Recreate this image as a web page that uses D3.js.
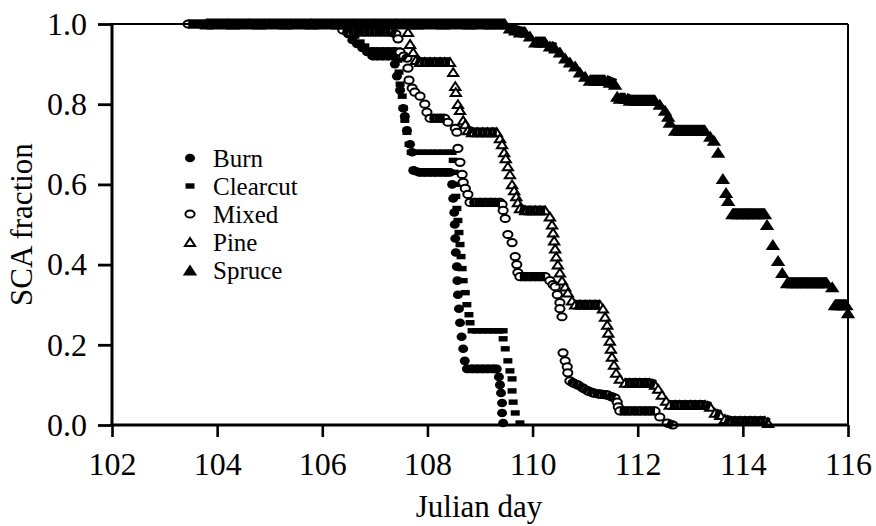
<!DOCTYPE html>
<html><head><meta charset="utf-8">
<script src="https://cdn.jsdelivr.net/npm/d3@7"></script>
<style>
html,body{margin:0;padding:0;background:#fff;}
svg{display:block;}
</style></head><body>
<svg id="chart" width="876" height="526"></svg>
<script>
// ---------------- DATA ----------------
const xTicks = [102,104,106,108,110,112,114,116];
const yTicks = [0.0,0.2,0.4,0.6,0.8,1.0];
const seriesNames = ["Burn","Clearcut","Mixed","Pine","Spruce"];
const xLabel = "Julian day";
const yLabel = "SCA fraction";

const burn = [
[103.45,1],[103.8,1],[104.2,1],[104.6,1],[105.0,1],[105.4,1],[105.8,1],[106.2,1],[106.39,1],
[106.43,0.99],[106.49,0.975],[106.57,0.96],[106.66,0.95],[106.76,0.94],[106.85,0.93],[106.95,0.92],
[107.05,0.92],[107.15,0.92],[107.25,0.92],[107.35,0.92],[107.38,0.90],
[107.42,0.87],[107.48,0.835],[107.54,0.79],[107.57,0.77],[107.61,0.735],[107.67,0.70],[107.71,0.68],[107.73,0.635],
[107.85,0.63],[107.95,0.63],[108.05,0.63],[108.15,0.63],[108.25,0.63],[108.35,0.63],[108.43,0.63],
[108.47,0.60],[108.49,0.565],[108.51,0.53],[108.52,0.50],[108.53,0.465],[108.54,0.43],[108.56,0.395],[108.57,0.36],
[108.58,0.325],[108.60,0.29],[108.62,0.255],[108.65,0.22],[108.68,0.19],[108.71,0.16],[108.75,0.14],
[108.85,0.14],[108.95,0.14],[109.05,0.14],[109.15,0.14],[109.25,0.14],[109.32,0.14],
[109.36,0.12],[109.38,0.10],[109.40,0.08],[109.42,0.055],[109.42,0.03],[109.44,0.005]
];

const clearcut = [
[103.45,1],[103.8,1],[104.2,1],[104.6,1],[105.0,1],[105.4,1],[105.8,1],[106.2,1],[106.43,1],
[106.53,0.985],[106.62,0.97],[106.72,0.955],[106.81,0.945],[106.91,0.935],[107.0,0.935],[107.1,0.935],
[107.2,0.935],[107.3,0.935],[107.42,0.935],
[107.44,0.91],[107.46,0.88],[107.48,0.85],[107.52,0.82],[107.54,0.79],[107.57,0.76],[107.61,0.73],[107.65,0.70],[107.69,0.68],
[107.8,0.68],[107.9,0.68],[108.0,0.68],[108.1,0.68],[108.2,0.68],[108.3,0.68],[108.4,0.68],[108.47,0.68],
[108.49,0.66],[108.51,0.63],[108.53,0.60],[108.54,0.57],[108.56,0.54],[108.58,0.51],[108.60,0.48],[108.62,0.45],
[108.64,0.42],[108.66,0.39],[108.68,0.36],[108.72,0.33],[108.75,0.30],[108.79,0.275],[108.81,0.255],[108.85,0.235],
[108.95,0.235],[109.05,0.235],[109.15,0.235],[109.25,0.235],[109.35,0.235],[109.44,0.235],
[109.44,0.215],[109.48,0.19],[109.53,0.16],[109.57,0.135],[109.61,0.115],[109.61,0.085],[109.63,0.057],[109.67,0.03],[109.76,0.005]
];

const mixed = [
[103.45,1],[103.8,1],[104.2,1],[104.6,1],[105.0,1],[105.4,1],[105.8,1],[106.2,1],[106.34,1],
[106.39,0.985],[106.5,0.98],[106.6,0.98],[106.7,0.98],[106.8,0.98],[106.9,0.98],[107.0,0.98],[107.1,0.98],
[107.2,0.98],[107.3,0.98],[107.4,0.975],
[107.44,0.963],[107.48,0.93],[107.55,0.92],[107.61,0.915],[107.63,0.89],[107.65,0.86],[107.71,0.84],[107.76,0.83],
[107.86,0.82],[107.95,0.80],[107.99,0.78],
[108.05,0.765],[108.14,0.765],[108.24,0.765],[108.33,0.765],[108.39,0.755],[108.53,0.74],[108.56,0.73],
[108.58,0.69],[108.62,0.655],[108.66,0.625],[108.68,0.605],[108.72,0.59],[108.77,0.575],[108.81,0.555],
[108.9,0.555],[109.0,0.555],[109.1,0.555],[109.2,0.555],[109.29,0.555],[109.38,0.555],[109.42,0.55],
[109.44,0.535],[109.48,0.515],[109.53,0.475],[109.61,0.455],[109.67,0.42],[109.70,0.40],[109.72,0.38],[109.76,0.37],
[109.86,0.37],[109.95,0.37],[110.05,0.37],[110.14,0.37],[110.24,0.37],[110.33,0.36],[110.39,0.35],
[110.43,0.345],[110.47,0.325],[110.52,0.305],[110.52,0.29],[110.56,0.27],
[110.58,0.18],[110.62,0.16],[110.66,0.145],[110.67,0.13],[110.71,0.11],[110.77,0.105],[110.86,0.10],[110.96,0.092],
[111.05,0.085],[111.15,0.08],[111.28,0.077],[111.42,0.075],[111.51,0.07],[111.57,0.067],[111.61,0.057],[111.63,0.045],
[111.66,0.035],[111.76,0.035],[111.85,0.035],[111.95,0.035],[112.04,0.035],[112.14,0.035],[112.23,0.035],[112.33,0.035],
[112.42,0.02],[112.56,0.005],[112.67,0.0]
];

const pine = [
[103.8,1],[104.2,1],[104.6,1],[105.0,1],[105.4,1],[105.8,1],[106.2,1],[106.6,1],[107.0,1],[107.4,1],[107.57,1],
[107.63,0.98],[107.67,0.95],[107.73,0.93],[107.78,0.91],[107.86,0.905],[107.95,0.905],[108.05,0.905],[108.14,0.905],
[108.24,0.905],[108.33,0.905],[108.43,0.905],
[108.49,0.88],[108.53,0.845],[108.54,0.83],[108.58,0.80],[108.62,0.785],[108.68,0.76],[108.72,0.75],[108.77,0.735],
[108.85,0.73],[108.95,0.73],[109.05,0.73],[109.14,0.73],[109.24,0.73],[109.32,0.73],
[109.38,0.715],[109.42,0.70],[109.46,0.68],[109.49,0.665],[109.53,0.645],[109.57,0.625],[109.61,0.60],[109.65,0.585],
[109.69,0.57],[109.72,0.555],[109.76,0.54],
[109.86,0.535],[109.95,0.535],[110.05,0.535],[110.14,0.535],[110.24,0.535],
[110.33,0.52],[110.37,0.50],[110.39,0.48],[110.41,0.46],[110.43,0.44],[110.45,0.42],[110.48,0.40],[110.52,0.38],
[110.56,0.36],[110.62,0.345],[110.67,0.33],[110.75,0.31],[110.81,0.30],
[110.9,0.30],[111.0,0.30],[111.09,0.30],[111.19,0.30],[111.28,0.30],
[111.34,0.29],[111.38,0.27],[111.42,0.25],[111.44,0.23],[111.47,0.21],[111.49,0.19],[111.51,0.17],[111.55,0.15],
[111.59,0.13],[111.66,0.115],[111.76,0.105],
[111.85,0.105],[111.95,0.105],[112.04,0.105],[112.14,0.105],[112.23,0.105],[112.33,0.10],[112.39,0.09],[112.46,0.075],
[112.54,0.06],[112.61,0.05],
[112.71,0.05],[112.8,0.05],[112.9,0.05],[113.0,0.05],[113.09,0.05],[113.19,0.05],[113.28,0.05],[113.38,0.045],
[113.47,0.03],[113.57,0.025],[113.66,0.015],[113.76,0.01],
[113.85,0.01],[113.95,0.01],[114.04,0.01],[114.14,0.01],[114.23,0.01],[114.33,0.01],[114.42,0.01],[114.48,0.005]
];

const spruce = [
[103.8,1],[104.3,1],[104.8,1],[105.3,1],[105.8,1],[106.3,1],[106.8,1],[107.3,1],[107.8,1],[108.3,1],[108.8,1],[109.2,1],[109.48,1],
[109.57,0.99],[109.67,0.985],[109.76,0.98],[109.86,0.98],[109.95,0.97],[110.05,0.955],[110.14,0.955],[110.24,0.955],
[110.33,0.945],[110.43,0.94],[110.52,0.93],[110.62,0.915],[110.71,0.905],[110.81,0.895],[110.90,0.88],[111.0,0.87],
[111.09,0.86],[111.19,0.86],[111.28,0.86],[111.38,0.86],[111.47,0.855],[111.57,0.85],
[111.61,0.82],[111.66,0.815],[111.76,0.815],[111.85,0.81],[111.95,0.81],[112.04,0.81],[112.14,0.81],[112.23,0.81],
[112.33,0.81],[112.42,0.80],[112.52,0.785],[112.58,0.77],[112.61,0.755],
[112.71,0.735],[112.8,0.735],[112.9,0.735],[113.0,0.735],[113.09,0.735],[113.19,0.735],[113.28,0.735],[113.38,0.72],[113.45,0.71],
[113.53,0.68],[113.62,0.615],[113.68,0.58],[113.72,0.56],
[113.80,0.527],[113.9,0.527],[114.0,0.527],[114.1,0.527],[114.2,0.527],[114.3,0.527],[114.42,0.527],
[114.46,0.50],[114.57,0.45],[114.67,0.41],[114.75,0.38],
[114.84,0.355],[114.94,0.355],[115.03,0.355],[115.13,0.355],[115.22,0.355],[115.32,0.355],[115.41,0.355],[115.5,0.355],
[115.6,0.355],[115.7,0.345],
[115.75,0.30],[115.81,0.30],[115.9,0.30],[115.97,0.30],[116.0,0.28]
];

// ---------------- CHART ----------------
const FONT = "'Liberation Serif','Times New Roman',Times,serif";
const svg = d3.select("#chart");
const x = d3.scaleLinear().domain([102,116]).range([112,848]);
const y = d3.scaleLinear().domain([0,1]).range([425,24]);

// band thickness used where dense, nearly level readings merge
const bandWidth = {dot:8.6, dash:5.4, ring:9.2, tri:9.8, ftri:11};
function drawMarker(g, type, cx, cy) {
  if (type === "dot") {
    g.append("ellipse").attr("cx",cx).attr("cy",cy).attr("rx",5).attr("ry",4.3).attr("fill","#000");
  } else if (type === "dash") {
    g.append("rect").attr("x",cx-4.5).attr("y",cy-2.7).attr("width",9).attr("height",5.4).attr("fill","#000");
  } else if (type === "ring") {
    g.append("ellipse").attr("cx",cx).attr("cy",cy).attr("rx",4.6).attr("ry",3.6)
      .attr("fill","#fff").attr("stroke","#000").attr("stroke-width",2);
  } else if (type === "tri") {
    const w=5.1, h=3.9;
    g.append("path").attr("d",`M${cx},${cy-h}L${cx+w},${cy+h}L${cx-w},${cy+h}Z`)
      .attr("fill","#fff").attr("stroke","#000").attr("stroke-width",2).attr("stroke-linejoin","miter");
  } else if (type === "ftri") {
    const w=7.2, h=5.5;
    g.append("path").attr("d",`M${cx},${cy-h}L${cx+w},${cy+h}L${cx-w},${cy+h}Z`).attr("fill","#000");
  }
}

const seriesList = [
  {name:seriesNames[0], data:burn, type:"dot"},
  {name:seriesNames[1], data:clearcut, type:"dash"},
  {name:seriesNames[2], data:mixed, type:"ring"},
  {name:seriesNames[3], data:pine, type:"tri"},
  {name:seriesNames[4], data:spruce, type:"ftri"}
];

const plot = svg.append("g");
seriesList.forEach(s => {
  const g = plot.append("g").attr("class","series");
  s.data.forEach(d => drawMarker(g, s.type, x(d[0]), y(d[1])));
  const segs = [];
  for (let i=0;i<s.data.length-1;i++){
    const x0=x(s.data[i][0]), y0=y(s.data[i][1]), x1=x(s.data[i+1][0]), y1=y(s.data[i+1][1]);
    if (x1-x0>0.5 && Math.abs(y1-y0) <= 0.7*(x1-x0)) segs.push([[x0,y0],[x1,y1]]);
  }
  g.selectAll("path.band").data(segs).enter().append("path").attr("class","band")
    .attr("d", d => d3.line()(d))
    .attr("stroke","#000").attr("stroke-width",bandWidth[s.type]).attr("fill","none")
    .attr("stroke-linecap","butt");
});

// axes
const gx = svg.append("g").attr("transform",`translate(0,${y(0)})`)
  .call(d3.axisBottom(x).tickValues(xTicks).tickSize(12).tickPadding(15).tickSizeOuter(0).tickFormat(d3.format("d")));
gx.select(".domain").remove();
gx.attr("font-family",FONT).attr("font-size",32);
gx.selectAll(".tick line").attr("stroke","#000").attr("stroke-width",2.6);
gx.selectAll(".tick text").attr("fill","#000");

const gy = svg.append("g").attr("transform",`translate(${x(102)},0)`)
  .call(d3.axisLeft(y).tickValues(yTicks).tickSize(14).tickPadding(11).tickSizeOuter(0).tickFormat(d3.format(".1f")));
gy.select(".domain").remove();
gy.attr("font-family",FONT).attr("font-size",32);
gy.selectAll(".tick line").attr("stroke","#000").attr("stroke-width",2.8);
gy.selectAll(".tick text").attr("fill","#000");

// frame
const frame = svg.append("g").attr("stroke","#000");
frame.append("line").attr("x1",x(102)).attr("x2",x(116)).attr("y1",y(1)).attr("y2",y(1)).attr("stroke-width",2);
frame.append("line").attr("x1",x(116)).attr("x2",x(116)).attr("y1",y(1)).attr("y2",y(0)).attr("stroke-width",2);
frame.append("line").attr("x1",x(102)).attr("x2",x(102)).attr("y1",y(1)-1).attr("y2",y(0)+1.5).attr("stroke-width",3);
frame.append("line").attr("x1",x(102)-1.5).attr("x2",x(116)+1).attr("y1",y(0)).attr("y2",y(0)).attr("stroke-width",3);

// axis titles
svg.append("text").attr("x",479).attr("y",517).attr("text-anchor","middle")
  .attr("font-family",FONT).attr("font-size",31).attr("fill","#000").text(xLabel);
svg.append("text").attr("transform",`translate(32,${(y(0)+y(1))/2}) rotate(-90)`).attr("text-anchor","middle")
  .attr("font-family",FONT).attr("font-size",31).attr("fill","#000").text(yLabel);

// legend
const leg = svg.append("g");
seriesList.forEach((s,i) => {
  const cy = 158 + i*28;
  drawMarker(leg, s.type, 190, cy);
  leg.append("text").attr("x",213).attr("y",cy+8.5).attr("font-family",FONT).attr("font-size",25)
    .attr("fill","#000").text(s.name);
});
</script>
</body></html>
